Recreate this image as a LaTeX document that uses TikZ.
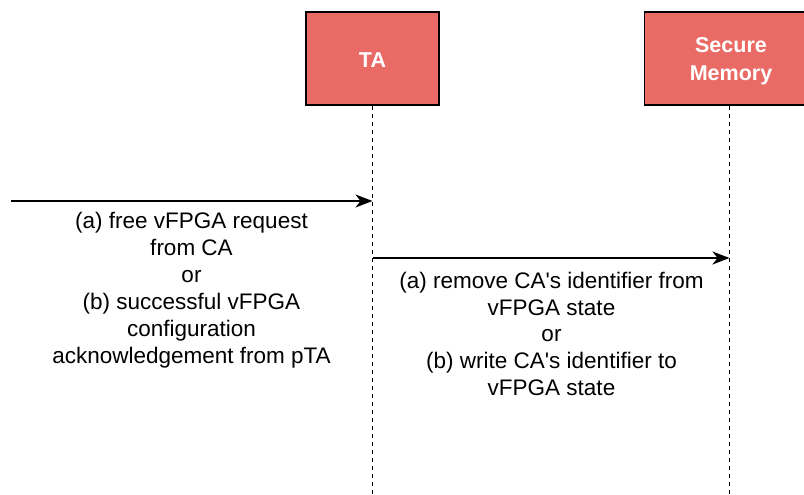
\documentclass[tikz,border=0pt]{standalone}
\usepackage{fontspec}
\setmainfont{Liberation Sans}
\usetikzlibrary{arrows.meta}
\definecolor{boxred}{HTML}{EA6B66}
\tikzset{
  actor/.style={draw=black, line width=1.6pt, fill=boxred, minimum width=133pt, minimum height=93pt,
    text=white, font=\fontsize{21.5}{28}\selectfont\bfseries, align=center, inner sep=0pt},
  lifeline/.style={line width=1pt, dash pattern=on 4pt off 4pt},
  msg/.style={line width=1.5pt, -{Stealth[length=17pt, width=13pt, inset=5pt]}},
  lbl/.style={font=\fontsize{22.5}{27}\selectfont, align=center, inner sep=0pt}
}
\newcommand{\apos}{\textquotesingle}
\begin{document}
\begin{tikzpicture}[x=1pt, y=-1pt]
  \useasboundingbox (0,0) rectangle (804,495);
  \begin{scope}
    \clip (0,0) rectangle (804,495);
    % participants
    \node[actor] (ta) at (372.5,58.5) {};
    \node[actor, minimum width=170pt] (sm) at (729.5,58.5) {};
    \node[text=white, font=\fontsize{21.5}{28}\selectfont\bfseries, inner sep=0pt] (talbl) at (372.5,60) {TA};
    \node[text=white, font=\fontsize{21.5}{28}\selectfont\bfseries, align=center, inner sep=0pt] (smlbl) at (731,61.5) {Secure\\Memory};
    % lifelines
    \coordinate (taend) at (372.5,495);
    \coordinate (smend) at (729.5,495);
    \draw[lifeline] (ta.south) -- (taend);
    \draw[lifeline] (sm.south) -- (smend);
  \end{scope}
  % messages
  \coordinate (src) at (11,201);
  \coordinate (ta1) at (372.5,201);
  \coordinate (ta2) at (372.5,258);
  \coordinate (sm2) at (729.5,258);
  \draw[msg] (src) -- (ta1);
  \draw[msg] (ta2) -- (sm2);
  \node[lbl, anchor=north] (l1) at (191.5,212) {(a) free vFPGA request\\from CA\\or\\(b) successful vFPGA\\configuration\\acknowledgement from pTA};
  \node[lbl, anchor=north, font=\fontsize{22.5}{26.7}\selectfont] (l2) at (551.5,272) {(a) remove CA\apos s identifier from\\vFPGA state\\or\\(b) write CA\apos s identifier to\\vFPGA state};
\end{tikzpicture}
\end{document}
